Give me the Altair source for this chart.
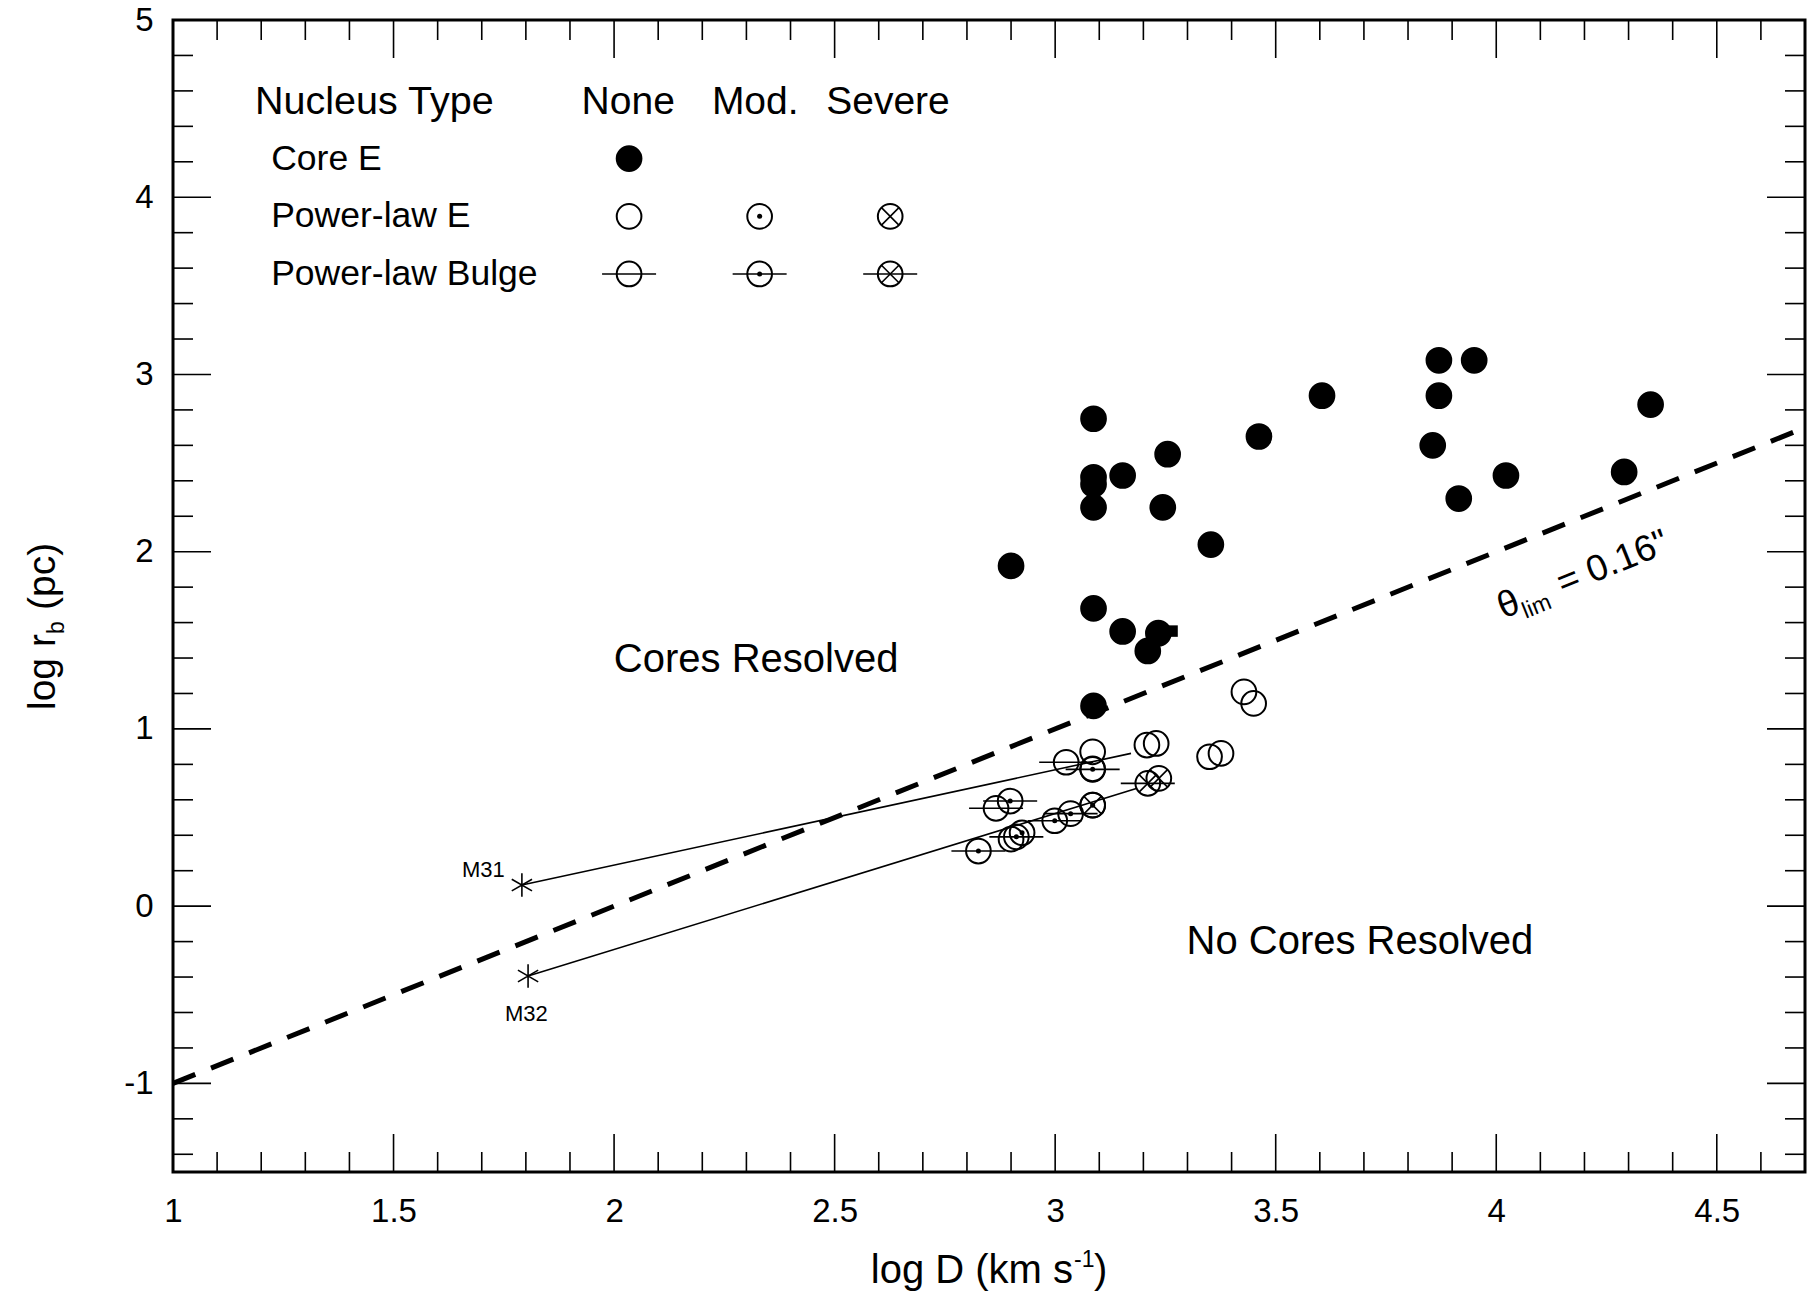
import altair as alt
import pandas as pd

W, H = 1632, 1152
FONT = "Liberation Sans"

# ---------------- axis ticks ----------------
x_major = [1, 1.5, 2, 2.5, 3, 3.5, 4, 4.5]
x_minor = [1.1, 1.2, 1.3, 1.4, 1.6, 1.7, 1.8, 1.9, 2.1, 2.2, 2.3, 2.4, 2.6, 2.7, 2.8, 2.9,
           3.1, 3.2, 3.3, 3.4, 3.6, 3.7, 3.8, 3.9, 4.1, 4.2, 4.3, 4.4, 4.6]
y_major = [-1, 0, 1, 2, 3, 4, 5]
y_minor = [-1.4, -1.2, -0.8, -0.6, -0.4, -0.2, 0.2, 0.4, 0.6, 0.8, 1.2, 1.4, 1.6, 1.8,
           2.2, 2.4, 2.6, 2.8, 3.2, 3.4, 3.6, 3.8, 4.2, 4.4, 4.6, 4.8]

# ---------------- data ----------------
core_x = [2.90, 3.087, 3.087, 3.087, 3.087, 3.153, 3.255, 3.244, 3.087, 3.153, 3.234, 3.21,
          3.087, 3.353, 3.462, 3.605, 3.856, 3.87, 3.87, 3.95, 3.915, 4.022, 4.29, 4.35]
core_y = [1.92, 2.75, 2.42, 2.38, 2.25, 2.43, 2.55, 2.25, 1.68, 1.55, 1.54, 1.44,
          1.13, 2.04, 2.65, 2.88, 2.60, 3.08, 2.88, 3.08, 2.30, 2.43, 2.45, 2.83]
square_x = [3.265]
square_y = [1.552]

ple_none_x = [3.428, 3.450, 3.350, 3.376, 3.208, 3.229, 3.085, 2.900, 3.085]
ple_none_y = [1.209, 1.144, 0.843, 0.862, 0.909, 0.918, 0.871, 0.378, 0.775]
plb_none_x = [3.025, 2.866]
plb_none_y = [0.812, 0.552]
ple_mod_x = [2.925, 3.085]
ple_mod_y = [0.414, 0.570]
plb_mod_x = [3.085, 2.898, 2.912, 2.826, 2.999, 3.035]
plb_mod_y = [0.772, 0.593, 0.391, 0.311, 0.482, 0.522]
ple_sev_x = [3.235, 3.085]
ple_sev_y = [0.721, 0.570]
plb_sev_x = [3.210]
plb_sev_y = [0.693]

m_names = ["M31", "M32"]
m_x = [1.791, 1.805]
m_y = [0.119, -0.394]
m_end_x = [3.172, 3.184]
m_end_y = [0.862, 0.664]
m_lab_x = [1.752, 1.801]
m_lab_y = [0.204, -0.609]

theta_x = [1.0, 4.7]
theta_y = [-1.0, 2.7]
theta_lab_x = [4.016]
theta_lab_y = [1.62]

region_labels = ["Cores Resolved", "No Cores Resolved"]
region_x = [2.322, 3.691]
region_y = [1.391, -0.205]

# legend (placed in data units)
leg_head_labels = ["None", "Mod.", "Severe"]
leg_head_x = [2.032, 2.320, 2.621]
leg_title = ["Nucleus Type"]
leg_title_x = [1.186]
leg_head_y = 4.537
leg_rows = ["Core E", "Power-law E", "Power-law Bulge"]
leg_row_x = 1.2226
leg_row_y = [4.218, 3.892, 3.567]
leg_sym_x = [2.034, 2.330, 2.626]

# ---------------- scales / axes ----------------
xs = alt.Scale(domain=[1, 4.7], nice=False, zero=False)
ys = alt.Scale(domain=[-1.5, 5], nice=False, zero=False)
xaxis = alt.Axis(values=x_major, labelExpr="datum.value", ticks=False, domain=False, grid=False,
                 labelFont=FONT, labelFontSize=33, labelColor="black", labelPadding=23,
                 labelFlush=False, labelOverlap=False, title=None)
yaxis = alt.Axis(values=y_major, labelExpr="datum.value", ticks=False, domain=False, grid=False,
                 labelFont=FONT, labelFontSize=33, labelColor="black", labelPadding=20,
                 labelFlush=False, labelOverlap=False, title=None)


def X(f):
    return alt.X(f, type="quantitative", scale=xs, axis=xaxis)


def Y(f):
    return alt.Y(f, type="quantitative", scale=ys, axis=yaxis)


layers = []

# ---------------- inward ticks on all four sides ----------------
MAJ, MIN = 38, 20
for vals, L in ((x_major, MAJ), (x_minor, MIN)):
    d = pd.DataFrame({"v": vals})
    layers.append(alt.Chart(d).mark_rule(color="black", strokeWidth=1.6).encode(
        x=X("v"), y=alt.value(H), y2=alt.value(H - L)))
    layers.append(alt.Chart(d).mark_rule(color="black", strokeWidth=1.6).encode(
        x=X("v"), y=alt.value(0), y2=alt.value(L)))
for vals, L in ((y_major, MAJ), (y_minor, MIN)):
    d = pd.DataFrame({"v": vals})
    layers.append(alt.Chart(d).mark_rule(color="black", strokeWidth=1.6).encode(
        y=Y("v"), x=alt.value(0), x2=alt.value(L)))
    layers.append(alt.Chart(d).mark_rule(color="black", strokeWidth=1.6).encode(
        y=Y("v"), x=alt.value(W), x2=alt.value(W - L)))

# ---------------- dashed theta_lim line ----------------
theta_df = pd.DataFrame({"x": theta_x, "y": theta_y})
layers.append(alt.Chart(theta_df).mark_line(color="black", strokeWidth=5, strokeDash=[24, 17]).encode(
    x=X("x"), y=Y("y")))

# ---------------- M31 / M32 connecting lines ----------------
mline = pd.DataFrame({
    "x": m_x + m_end_x,
    "y": m_y + m_end_y,
    "g": m_names + m_names,
})
layers.append(alt.Chart(mline).mark_line(color="black", strokeWidth=1.6).encode(
    x=X("x"), y=Y("y"), detail="g:N"))

# ---------------- symbols (data + legend) ----------------
rows = []


def add(xl, yl, kind, nuc):
    for a, b in zip(xl, yl):
        rows.append({"x": a, "y": b, "kind": kind, "nuc": nuc})


add(ple_none_x, ple_none_y, "E", "None")
add(plb_none_x, plb_none_y, "Bulge", "None")
add(ple_mod_x, ple_mod_y, "E", "Mod")
add(plb_mod_x, plb_mod_y, "Bulge", "Mod")
add(ple_sev_x, ple_sev_y, "E", "Severe")
add(plb_sev_x, plb_sev_y, "Bulge", "Severe")
add(core_x, core_y, "core", "None")
# legend symbols
add([leg_sym_x[0]], [leg_row_y[0]], "core", "None")
add([leg_sym_x[0]], [leg_row_y[1]], "E", "None")
add([leg_sym_x[1]], [leg_row_y[1]], "E", "Mod")
add([leg_sym_x[2]], [leg_row_y[1]], "E", "Severe")
add([leg_sym_x[0]], [leg_row_y[2]], "Bulge", "None")
add([leg_sym_x[1]], [leg_row_y[2]], "Bulge", "Mod")
add([leg_sym_x[2]], [leg_row_y[2]], "Bulge", "Severe")
pts = pd.DataFrame(rows)

base = alt.Chart(pts)
BAR = "M-1,0L1,0"
XSHAPE = "M-0.7071,-0.7071L0.7071,0.7071M-0.7071,0.7071L0.7071,-0.7071"
AST = "M0,-1L0,1M-0.866,-0.5L0.866,0.5M-0.866,0.5L0.866,-0.5"

layers.append(base.transform_filter("datum.kind == 'Bulge'").mark_point(
    shape=BAR, size=2916, filled=False, color="black", strokeWidth=1.6, opacity=1).encode(
    x=X("x"), y=Y("y")))
layers.append(base.transform_filter("datum.kind != 'core'").mark_point(
    shape="circle", size=610, filled=False, color="black", strokeWidth=2, opacity=1).encode(
    x=X("x"), y=Y("y")))
layers.append(base.transform_filter("datum.nuc == 'Severe'").mark_point(
    shape=XSHAPE, size=610, filled=False, color="black", strokeWidth=1.6, opacity=1).encode(
    x=X("x"), y=Y("y")))
layers.append(base.transform_filter("datum.nuc == 'Mod'").mark_point(
    shape="circle", size=25, filled=True, color="black", opacity=1).encode(
    x=X("x"), y=Y("y")))

sq_df = pd.DataFrame({"x": square_x, "y": square_y})
layers.append(alt.Chart(sq_df).mark_point(shape="square", size=132, filled=True, color="black",
                                          opacity=1).encode(x=X("x"), y=Y("y")))
layers.append(base.transform_filter("datum.kind == 'core'").mark_point(
    shape="circle", size=713, filled=True, color="black", opacity=1).encode(
    x=X("x"), y=Y("y")))

# asterisks M31 / M32
m_df = pd.DataFrame({"x": m_x, "y": m_y, "name": m_names, "lx": m_lab_x, "ly": m_lab_y})
layers.append(alt.Chart(m_df).mark_point(shape=AST, size=548, filled=False, color="black",
                                         strokeWidth=1.6, opacity=1).encode(x=X("x"), y=Y("y")))
layers.append(alt.Chart(m_df).transform_filter("datum.name == 'M31'").mark_text(
    font=FONT, fontSize=22, color="black", align="right", baseline="middle").encode(
    x=X("lx"), y=Y("ly"), text="name:N"))
layers.append(alt.Chart(m_df).transform_filter("datum.name == 'M32'").mark_text(
    font=FONT, fontSize=22, color="black", align="center", baseline="middle").encode(
    x=X("lx"), y=Y("ly"), text="name:N"))

# region labels
reg_df = pd.DataFrame({"x": region_x, "y": region_y, "t": region_labels})
layers.append(alt.Chart(reg_df).mark_text(font=FONT, fontSize=40, color="black", align="center",
                                          baseline="middle").encode(x=X("x"), y=Y("y"), text="t:N"))

# theta_lim label (rotated along the line)
ANG = 338.1
th_df = pd.DataFrame({"x": theta_lab_x, "y": theta_lab_y})
layers.append(alt.Chart(th_df).mark_text(text="θ", font=FONT, fontSize=37, color="black", align="left",
                                         baseline="alphabetic", angle=ANG).encode(x=X("x"), y=Y("y")))
layers.append(alt.Chart(th_df).mark_text(text="lim", font=FONT, fontSize=23, color="black", align="left",
                                         baseline="alphabetic", angle=ANG, dx=21, dy=8).encode(
    x=X("x"), y=Y("y")))
layers.append(alt.Chart(th_df).mark_text(text='= 0.16"', font=FONT, fontSize=37, color="black",
                                         align="left", baseline="alphabetic", angle=ANG, dx=64).encode(
    x=X("x"), y=Y("y")))

# legend texts
lt_df = pd.DataFrame({"x": leg_title_x, "y": [leg_head_y], "t": leg_title})
layers.append(alt.Chart(lt_df).mark_text(font=FONT, fontSize=39.5, color="black", align="left",
                                         baseline="middle").encode(x=X("x"), y=Y("y"), text="t:N"))
lh_df = pd.DataFrame({"x": leg_head_x, "y": [leg_head_y] * 3, "t": leg_head_labels})
layers.append(alt.Chart(lh_df).mark_text(font=FONT, fontSize=39, color="black", align="center",
                                         baseline="middle").encode(x=X("x"), y=Y("y"), text="t:N"))
lr_df = pd.DataFrame({"x": [leg_row_x] * 3, "y": leg_row_y, "t": leg_rows})
layers.append(alt.Chart(lr_df).mark_text(font=FONT, fontSize=35.5, color="black", align="left",
                                         baseline="middle").encode(x=X("x"), y=Y("y"), text="t:N"))

# ---------------- axis titles (with sub/superscripts) ----------------
XT_END = 900      # right end of "log D (km s" relative to plot left
XT_BASE = 1263    # baseline relative to plot top
layers.append(alt.Chart(th_df).mark_text(text="log D (km s", font=FONT, fontSize=40, color="black",
                                         align="right", baseline="alphabetic").encode(
    x=alt.value(XT_END), y=alt.value(XT_BASE)))
layers.append(alt.Chart(th_df).mark_text(text="-1", font=FONT, fontSize=23, color="black",
                                         align="left", baseline="alphabetic").encode(
    x=alt.value(XT_END + 1), y=alt.value(XT_BASE - 16)))
layers.append(alt.Chart(th_df).mark_text(text=")", font=FONT, fontSize=40, color="black",
                                         align="left", baseline="alphabetic").encode(
    x=alt.value(XT_END + 21), y=alt.value(XT_BASE)))

YT_X = -118
YT_Y = 690
layers.append(alt.Chart(th_df).mark_text(text="log r", font=FONT, fontSize=39, color="black",
                                         align="left", baseline="alphabetic", angle=270).encode(
    x=alt.value(YT_X), y=alt.value(YT_Y)))
layers.append(alt.Chart(th_df).mark_text(text="b", font=FONT, fontSize=23, color="black",
                                         align="left", baseline="alphabetic", angle=270,
                                         dx=76, dy=9).encode(
    x=alt.value(YT_X), y=alt.value(YT_Y)))
layers.append(alt.Chart(th_df).mark_text(text="(pc)", font=FONT, fontSize=39, color="black",
                                         align="left", baseline="alphabetic", angle=270,
                                         dx=100).encode(
    x=alt.value(YT_X), y=alt.value(YT_Y)))

chart = alt.layer(*layers).properties(
    width=W,
    height=H,
    padding={"left": 173, "top": 20, "right": 6, "bottom": 125},
    autosize=alt.AutoSizeParams(type="none"),
    background="white",
).configure_view(stroke="black", strokeWidth=3)

chart.save("out.html", embed_options={"renderer": "svg", "actions": False})
